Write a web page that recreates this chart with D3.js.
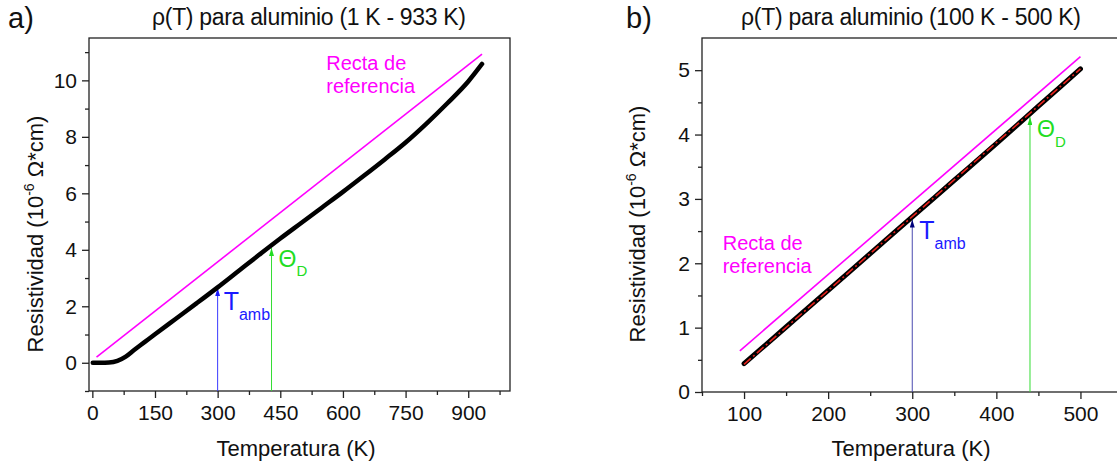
<!DOCTYPE html>
<html>
<head>
<meta charset="utf-8">
<script src="https://cdn.jsdelivr.net/npm/d3@7"></script>
<style>
  html, body { margin: 0; padding: 0; background: #fff; }
  svg { display: block; font-family: "Liberation Sans", Arial, sans-serif; }
</style>
</head>
<body>
<svg id="chart" width="1117" height="466"></svg>
<script>
// Panel a) - resistivity of aluminium, 1 K - 933 K
const tempA = [1, 20, 40, 60, 80, 100, 125, 150, 200, 250, 300, 350, 400, 450, 500, 550, 600, 650, 700, 750, 800, 850, 900, 933];
const rhoA = [0, 0, 0.01, 0.07, 0.22, 0.45, 0.73, 1.01, 1.56, 2.11, 2.67, 3.25, 3.83, 4.4, 4.95, 5.5, 6.05, 6.62, 7.2, 7.8, 8.47, 9.19, 9.96, 10.58];
const refTempA = [10, 933];
const refRhoA = [0.2, 10.93];
const xMajorA = [0, 150, 300, 450, 600, 750, 900];
const xMinorA = [75, 225, 375, 525, 675, 825, 975];
const yMajorA = [0, 2, 4, 6, 8, 10];
const yMinorA = [-1, 1, 3, 5, 7, 9, 11];

// Panel b) - resistivity of aluminium, 100 K - 500 K
const tempB = [100, 150, 200, 250, 300, 350, 400, 450, 500];
const rhoB = [0.44, 1.01, 1.58, 2.15, 2.72, 3.29, 3.86, 4.44, 5.02];
const fitTempB = [100, 500];
const fitRhoB = [0.43, 5.02];
const refTempB = [95, 500];
const refRhoB = [0.64, 5.21];
const xMajorB = [100, 200, 300, 400, 500];
const xMinorB = [50, 150, 250, 350, 450];
const yMajorB = [0, 1, 2, 3, 4, 5];
const yMinorB = [0.5, 1.5, 2.5, 3.5, 4.5];

// Arrow markers (T ambiente, Debye temperature)
const arrowsA = [
    { temp: 300, from: -1, to: 2.64, line: '#3a3aff', head: '#1a1aff', label: 'T', sub: 'amb', color: '#1a1aff', big: 25, small: 16, dx: 6, dy: 22, subDy: 10 },
    { temp: 429, from: -1, to: 4.06, line: '#33dd33', head: '#22dd22', label: 'Θ', sub: 'D', color: '#22dd22', big: 23, small: 15, dx: 7, dy: 19, subDy: 9 }
];
const arrowsB = [
    { temp: 300, from: 0, to: 2.68, line: '#4b4bb0', head: '#00007a', label: 'T', sub: 'amb', color: '#1a1aff', big: 25, small: 16, dx: 7, dy: 19, subDy: 10 },
    { temp: 440, from: 0, to: 4.27, line: '#33dd33', head: '#22dd22', label: 'Θ', sub: 'D', color: '#22dd22', big: 23, small: 15, dx: 7, dy: 20, subDy: 10 }
];

const svg = d3.select('#chart');
const defs = svg.append('defs');

function addMarker(id, color) {
    defs.append('marker')
        .attr('id', id)
        .attr('viewBox', '0 0 10 10')
        .attr('preserveAspectRatio', 'none')
        .attr('refX', 10)
        .attr('refY', 5)
        .attr('markerUnits', 'userSpaceOnUse')
        .attr('markerWidth', 8)
        .attr('markerHeight', 5)
        .attr('orient', 'auto')
        .append('path')
        .attr('d', 'M0,0 L10,5 L0,10 z')
        .attr('fill', color);
}

function drawPanel(cfg) {
    const x = d3.scaleLinear().domain(cfg.xDomain).range(cfg.xRange);
    const y = d3.scaleLinear().domain(cfg.yDomain).range(cfg.yRange);
    const g = svg.append('g');

    // clip for the plot area
    const clipId = 'clip-' + cfg.id;
    defs.append('clipPath').attr('id', clipId)
        .append('rect')
        .attr('x', cfg.xRange[0]).attr('y', cfg.yRange[1])
        .attr('width', cfg.xRange[1] - cfg.xRange[0])
        .attr('height', cfg.yRange[0] - cfg.yRange[1]);

    const styleAxis = sel => {
        sel.select('.domain').remove();
        sel.selectAll('line').attr('stroke', '#222').attr('stroke-width', 1.3);
        sel.selectAll('text')
            .attr('font-family', '"Liberation Sans", Arial, sans-serif')
            .attr('font-size', 21)
            .attr('fill', '#111');
    };

    // x axis, major + minor
    g.append('g')
        .attr('transform', `translate(0,${cfg.yRange[0]})`)
        .call(d3.axisBottom(x).tickValues(cfg.xMajor).tickFormat(d3.format('d'))
            .tickSize(7).tickPadding(7).tickSizeOuter(0))
        .call(styleAxis);
    g.append('g')
        .attr('transform', `translate(0,${cfg.yRange[0]})`)
        .call(d3.axisBottom(x).tickValues(cfg.xMinor).tickSize(4).tickFormat('').tickSizeOuter(0))
        .call(styleAxis);

    // y axis, major + minor
    g.append('g')
        .attr('transform', `translate(${cfg.xRange[0]},0)`)
        .call(d3.axisLeft(y).tickValues(cfg.yMajor).tickFormat(d3.format('d'))
            .tickSize(7).tickPadding(5).tickSizeOuter(0))
        .call(styleAxis);
    g.append('g')
        .attr('transform', `translate(${cfg.xRange[0]},0)`)
        .call(d3.axisLeft(y).tickValues(cfg.yMinor).tickSize(4).tickFormat('').tickSizeOuter(0))
        .call(styleAxis);

    // frame
    g.append('rect')
        .attr('x', cfg.xRange[0])
        .attr('y', cfg.yRange[1])
        .attr('width', cfg.xRange[1] - cfg.xRange[0])
        .attr('height', cfg.yRange[0] - cfg.yRange[1])
        .attr('fill', 'none')
        .attr('stroke', '#222')
        .attr('stroke-width', 1.3);

    const plot = g.append('g').attr('clip-path', `url(#${clipId})`);

    const line = d3.line()
        .x(d => x(d[0]))
        .y(d => y(d[1]))
        .curve(d3.curveMonotoneX);

    // reference line
    plot.append('path')
        .datum(d3.zip(cfg.refTemp, cfg.refRho))
        .attr('d', line)
        .attr('fill', 'none')
        .attr('stroke', '#ff00ff')
        .attr('stroke-width', 1.6);

    // arrows
    cfg.arrows.forEach((a, i) => {
        const mId = `head-${cfg.id}-${i}`;
        addMarker(mId, a.head);
        plot.append('line')
            .attr('x1', x(a.temp)).attr('x2', x(a.temp))
            .attr('y1', y(a.from)).attr('y2', y(a.to))
            .attr('stroke', a.line)
            .attr('stroke-width', 1)
            .attr('marker-end', `url(#${mId})`);
    });

    // measured data
    plot.append('path')
        .datum(d3.zip(cfg.temp, cfg.rho))
        .attr('d', line)
        .attr('fill', 'none')
        .attr('stroke', '#000')
        .attr('stroke-width', cfg.dataWidth)
        .attr('stroke-linecap', 'round')
        .attr('stroke-linejoin', 'round');

    // linear fit (panel b only)
    if (cfg.fitTemp) {
        plot.append('path')
            .datum(d3.zip(cfg.fitTemp, cfg.fitRho))
            .attr('d', line)
            .attr('fill', 'none')
            .attr('stroke', '#e8221c')
            .attr('stroke-width', 1.6)
            .attr('stroke-dasharray', '9,3,2,3');
    }

    // arrow labels
    cfg.arrows.forEach(a => {
        const t = g.append('text')
            .attr('x', x(a.temp) + a.dx)
            .attr('y', y(a.to) + a.dy)
            .attr('fill', a.color)
            .attr('font-size', a.big)
            .text(a.label);
        t.append('tspan')
            .attr('dy', a.subDy)
            .attr('font-size', a.small)
            .text(a.sub);
    });

    // "Recta de referencia"
    const rl = g.append('text')
        .attr('fill', '#ff00ff')
        .attr('font-size', 20)
        .attr('x', x(cfg.refLabel[0]))
        .attr('y', y(cfg.refLabel[1]));
    rl.append('tspan').text('Recta de');
    rl.append('tspan').attr('x', x(cfg.refLabel[0])).attr('dy', 23).text('referencia');

    // title
    g.append('text')
        .attr('x', cfg.titleX - cfg.titleWidth / 2)
        .attr('y', 25)
        .attr('font-size', 23)
        .attr('textLength', cfg.titleWidth)
        .attr('lengthAdjust', 'spacing')
        .attr('fill', '#111')
        .text(cfg.title);

    // panel letter
    g.append('text')
        .attr('x', cfg.letterX)
        .attr('y', 28)
        .attr('font-size', 29)
        .attr('fill', '#111')
        .text(cfg.letter);

    // x axis title
    g.append('text')
        .attr('x', cfg.xTitleX)
        .attr('y', 456)
        .attr('text-anchor', 'middle')
        .attr('font-size', 22)
        .attr('fill', '#111')
        .text('Temperatura (K)');

    // y axis title
    const yt = g.append('text')
        .attr('transform', `translate(${cfg.yTitle[0]},${cfg.yTitle[1]}) rotate(-90)`)
        .attr('text-anchor', 'middle')
        .attr('font-size', 22)
        .attr('fill', '#111');
    yt.append('tspan').text('Resistividad (10');
    yt.append('tspan').attr('dy', -9).attr('font-size', 14).text('-6');
    yt.append('tspan').attr('dy', 9).text(' Ω*cm)');
}

drawPanel({
    id: 'a', letter: 'a)', letterX: 8,
    title: 'ρ(T) para aluminio (1 K - 933 K)', titleX: 309, titleWidth: 314,
    xDomain: [-8, 1000], xRange: [89, 510],
    yDomain: [-1, 11.5], yRange: [391, 38],
    xMajor: xMajorA, xMinor: xMinorA, yMajor: yMajorA, yMinor: yMinorA,
    temp: tempA, rho: rhoA, dataWidth: 4.5,
    refTemp: refTempA, refRho: refRhoA, refLabel: [560, 10.37],
    arrows: arrowsA,
    xTitleX: 296, yTitle: [43, 234]
});

drawPanel({
    id: 'b', letter: 'b)', letterX: 626,
    title: 'ρ(T) para aluminio (100 K - 500 K)', titleX: 911, titleWidth: 340,
    xDomain: [50, 550], xRange: [702, 1122.5],
    yDomain: [0, 5.5], yRange: [392, 38],
    xMajor: xMajorB, xMinor: xMinorB, yMajor: yMajorB, yMinor: yMinorB,
    temp: tempB, rho: rhoB, dataWidth: 5,
    fitTemp: fitTempB, fitRho: fitRhoB,
    refTemp: refTempB, refRho: refRhoB, refLabel: [74.6, 2.2],
    arrows: arrowsB,
    xTitleX: 911, yTitle: [645, 224]
});
</script>
</body>
</html>
